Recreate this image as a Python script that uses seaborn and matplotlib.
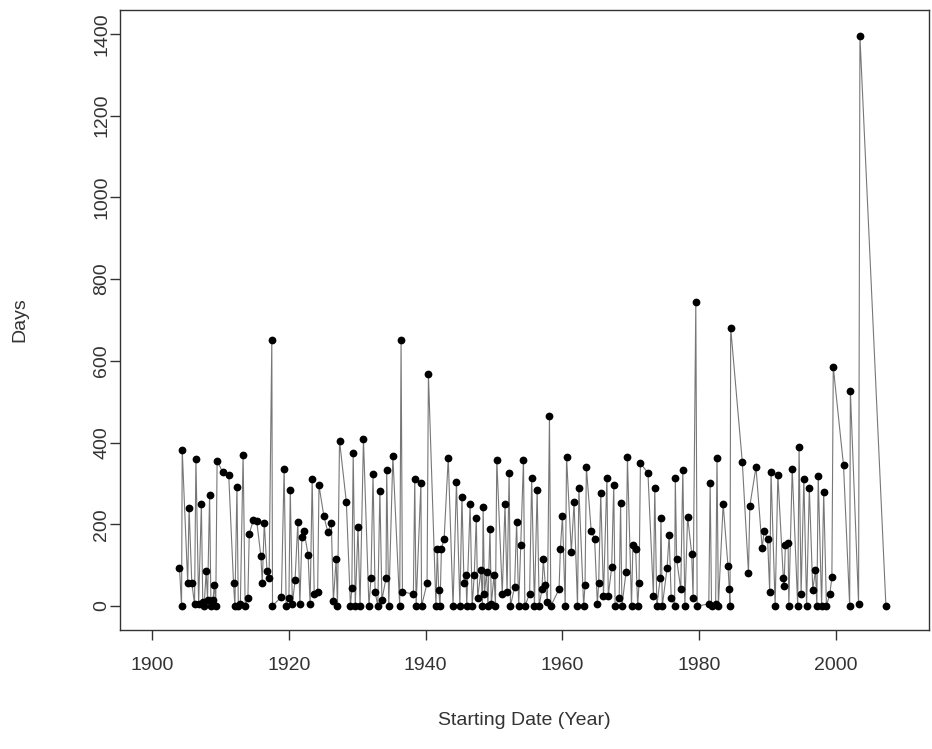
import matplotlib
matplotlib.use("Agg")
import matplotlib.pyplot as plt
import seaborn as sns
import numpy as np
import pandas as pd

# start year of each episode and its length in days
years = [
    1904.0, 1904.3, 1904.4, 1905.2, 1905.4, 1905.8, 1906.2, 1906.4, 1906.8, 1907.2,
    1907.4, 1907.6, 1907.9, 1908.1, 1908.4, 1908.6, 1908.9, 1909.1, 1909.3, 1909.5,
    1910.3, 1911.2, 1911.9, 1912.1, 1912.4, 1912.6, 1912.9, 1913.3, 1913.6, 1914.0,
    1914.2, 1914.8, 1915.3, 1915.9, 1916.1, 1916.4, 1916.8, 1917.1, 1917.5, 1917.6,
    1918.9, 1919.3, 1919.6, 1920.0, 1920.2, 1920.5, 1920.9, 1921.3, 1921.6, 1921.9,
    1922.2, 1922.8, 1923.1, 1923.4, 1923.7, 1924.2, 1924.4, 1925.1, 1925.7, 1926.2,
    1926.5, 1926.9, 1927.1, 1927.4, 1928.4, 1929.0, 1929.2, 1929.4, 1929.7, 1930.1,
    1930.4, 1930.9, 1931.7, 1932.0, 1932.3, 1932.6, 1933.0, 1933.3, 1933.6, 1934.2,
    1934.3, 1934.6, 1935.2, 1936.2, 1936.4, 1936.6, 1938.2, 1938.4, 1938.6, 1939.3,
    1939.4, 1940.2, 1940.4, 1941.5, 1941.7, 1941.9, 1942.1, 1942.3, 1942.7, 1943.3,
    1944.0, 1944.5, 1945.0, 1945.3, 1945.6, 1945.9, 1946.0, 1946.5, 1946.8, 1947.1,
    1947.4, 1947.6, 1948.1, 1948.3, 1948.4, 1948.6, 1948.9, 1949.1, 1949.4, 1949.6,
    1950.0, 1950.2, 1950.4, 1951.2, 1951.6, 1951.9, 1952.2, 1952.4, 1953.0, 1953.3,
    1953.6, 1953.9, 1954.3, 1954.5, 1955.2, 1955.5, 1955.9, 1956.3, 1956.6, 1957.0,
    1957.2, 1957.5, 1957.8, 1958.1, 1958.3, 1959.5, 1959.7, 1960.0, 1960.4, 1960.6,
    1961.3, 1961.7, 1962.2, 1962.4, 1963.1, 1963.3, 1963.5, 1964.2, 1964.7, 1965.1,
    1965.3, 1965.6, 1966.0, 1966.5, 1966.7, 1967.2, 1967.5, 1967.7, 1968.3, 1968.5,
    1968.7, 1969.3, 1969.5, 1970.1, 1970.3, 1970.7, 1971.0, 1971.2, 1971.4, 1972.5,
    1973.3, 1973.5, 1973.8, 1974.3, 1974.4, 1974.6, 1975.3, 1975.6, 1975.9, 1976.4,
    1976.5, 1976.7, 1977.3, 1977.6, 1977.9, 1978.3, 1978.9, 1979.1, 1979.5, 1979.7,
    1981.4, 1981.6, 1981.8, 1982.4, 1982.6, 1982.8, 1983.5, 1984.2, 1984.4, 1984.5,
    1984.6, 1986.3, 1987.2, 1987.4, 1988.3, 1989.2, 1989.5, 1990.0, 1990.3, 1990.5,
    1991.1, 1991.5, 1992.3, 1992.4, 1992.6, 1993.0, 1993.1, 1993.6, 1994.4, 1994.6,
    1994.9, 1995.3, 1995.7, 1996.1, 1996.6, 1997.0, 1997.2, 1997.4, 1997.9, 1998.2,
    1998.6, 1999.1, 1999.4, 1999.6, 2001.1, 2002.0, 2002.1, 2003.3, 2003.5, 2007.3,
]
days = [
    93, 0, 382, 56, 241, 56, 5, 359, 5, 250,
    10, 0, 85, 15, 272, 0, 15, 52, 0, 356,
    328, 320, 56, 0, 291, 0, 5, 370, 0, 20,
    177, 210, 207, 122, 56, 204, 85, 68, 652, 0,
    23, 335, 0, 20, 284, 5, 63, 205, 5, 169,
    184, 126, 5, 312, 30, 35, 295, 221, 180, 203,
    12, 114, 0, 405, 254, 0, 43, 375, 0, 194,
    0, 408, 0, 68, 323, 35, 0, 282, 15, 68,
    332, 0, 367, 0, 650, 35, 29, 312, 0, 300,
    0, 56, 567, 0, 140, 40, 0, 140, 165, 363,
    0, 303, 0, 268, 56, 75, 0, 250, 0, 75,
    215, 20, 88, 0, 242, 30, 84, 0, 189, 5,
    76, 0, 358, 30, 250, 35, 326, 0, 47, 206,
    0, 149, 358, 0, 30, 314, 0, 283, 0, 41,
    114, 52, 10, 466, 0, 41, 140, 220, 0, 365,
    132, 254, 0, 289, 0, 51, 340, 184, 165, 5,
    56, 276, 25, 314, 25, 95, 297, 0, 20, 253,
    0, 84, 365, 0, 149, 140, 0, 56, 349, 326,
    25, 289, 0, 68, 215, 0, 93, 175, 20, 0,
    314, 114, 41, 334, 0, 219, 128, 20, 743, 0,
    5, 300, 0, 5, 363, 0, 250, 99, 41, 0,
    681, 352, 82, 245, 340, 142, 184, 163, 35, 328,
    0, 320, 68, 50, 149, 154, 0, 335, 0, 388,
    29, 312, 0, 289, 40, 87, 0, 317, 0, 280,
    0, 30, 70, 585, 344, 0, 527, 5, 1394, 0,
]
x_ticks = [1900, 1920, 1940, 1960, 1980, 2000]
y_ticks = [0, 200, 400, 600, 800, 1000, 1200, 1400]

df = pd.DataFrame({"year": years, "days": days})

sns.set_style("white")
plt.rcParams["font.family"] = ["Liberation Sans", "DejaVu Sans"]

fig = plt.figure(figsize=(9.32, 7.49), dpi=100)
ax = fig.add_axes([120 / 932, 119 / 749, 809 / 932, 620 / 749])

sns.lineplot(data=df, x="year", y="days", ax=ax, sort=False, estimator=None,
             color="#777777", linewidth=0.8)
ax.plot(df["year"], df["days"], "o", color="black", markersize=5.6, markeredgewidth=0)

ax.set_xlim(1895.3, 2013.6)
ax.set_ylim(-58.7, 1458.6)
ax.set_xticks(x_ticks)
ax.set_yticks(y_ticks)
ax.set_yticklabels([str(v) for v in y_ticks], rotation=90, va="center")

for s in ax.spines.values():
    s.set_visible(True)
    s.set_color("#333333")
    s.set_linewidth(1.0)

ax.tick_params(axis="both", direction="out", length=7, width=1.0, color="#333333",
               labelsize=14, labelcolor="#333333", left=True, bottom=True)
ax.tick_params(axis="x", pad=12.5)
ax.tick_params(axis="y", pad=0)

ax.set_xlabel("Starting Date (Year)", fontsize=14, color="#333333", labelpad=27)
ax.set_ylabel("Days", fontsize=14, color="#333333", labelpad=47)

fig.savefig("out.png", dpi=100)
